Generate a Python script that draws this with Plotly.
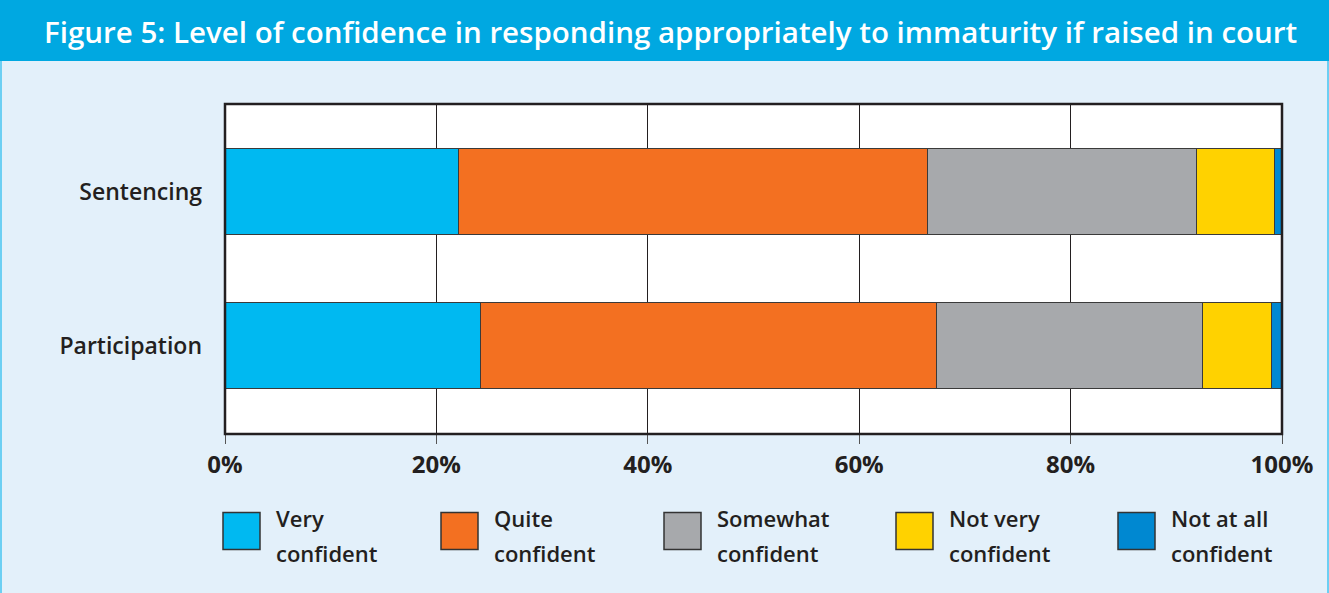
import plotly.graph_objects as go

# ---- data ----
categories = ["Sentencing", "Participation"]
series_names = ["Very confident", "Quite confident", "Somewhat confident",
                "Not very confident", "Not at all confident"]
sentencing = [22.1, 44.4, 25.4, 7.4, 0.7]
participation = [24.2, 43.1, 25.2, 6.5, 1.0]
x_ticks = [0, 20, 40, 60, 80, 100]
x_tick_labels = ["0%", "20%", "40%", "60%", "80%", "100%"]
colors = ["#00B9F1", "#F37021", "#A7A9AC", "#FFD200", "#0088D1"]
title_text = "Figure 5: Level of confidence in responding appropriately to immaturity if raised in court"

W, H = 1329, 593
L, R, T, B = 225, 47, 104, 159
PW, PH = W - L - R, H - T - B
TXT = "#231F20"
FONT = "Open Sans"


def px(x):
    return (x - L) / PW


def py(y):
    return (H - B - y) / PH


fig = go.Figure()
for i, name in enumerate(series_names):
    fig.add_trace(go.Bar(
        y=categories,
        x=[sentencing[i], participation[i]],
        name=name,
        orientation="h",
        width=0.56,
        marker=dict(color=colors[i], line=dict(color="#3A3A3A", width=1)),
        showlegend=False,
    ))

shapes = []
annotations = []
# title bar
shapes.append(dict(type="rect", xref="paper", yref="paper", x0=px(0), x1=px(W),
                   y0=py(61), y1=py(0), fillcolor="#00A8E1", line=dict(width=0),
                   layer="below"))
# figure side borders
shapes.append(dict(type="line", xref="paper", yref="paper", x0=px(1), x1=px(1),
                   y0=py(61), y1=py(H), line=dict(color="#6CCFF3", width=2)))
shapes.append(dict(type="line", xref="paper", yref="paper", x0=px(W - 1), x1=px(W - 1),
                   y0=py(61), y1=py(H), line=dict(color="#6CCFF3", width=2)))
# plot frame
shapes.append(dict(type="rect", xref="paper", yref="paper", x0=0, x1=1, y0=0, y1=1,
                   line=dict(color=TXT, width=2.5), layer="above"))

annotations.append(dict(text=title_text, xref="paper", yref="paper",
                        x=px(670), y=py(31), xanchor="center", yanchor="middle",
                        showarrow=False,
                        font=dict(family=FONT, size=29.5, color="white", weight=600)))

# custom legend
leg_x = [223, 441, 664, 896, 1118]
for i, name in enumerate(series_names):
    x0 = leg_x[i]
    shapes.append(dict(type="rect", xref="paper", yref="paper",
                       x0=px(x0), x1=px(x0 + 37), y0=py(549.5), y1=py(512.5),
                       fillcolor=colors[i], line=dict(color="#333333", width=1.5)))
    first, second = name.rsplit(" ", 1)
    for j, line in enumerate([first, second]):
        annotations.append(dict(text=line, xref="paper", yref="paper",
                                x=px(x0 + 51), y=py(518 + 35 * j),
                                xanchor="left", yanchor="middle", showarrow=False,
                                font=dict(family=FONT, size=22, color=TXT, weight=600)))

fig.update_layout(
    width=W, height=H,
    margin=dict(l=L, r=R, t=T, b=B, pad=0),
    barmode="stack",
    paper_bgcolor="#E3F0FA",
    plot_bgcolor="white",
    shapes=shapes,
    annotations=annotations,
    xaxis=dict(range=[0, 100], tickvals=x_ticks, ticktext=x_tick_labels,
               showgrid=True, gridcolor="#231F20", gridwidth=1,
               ticks="outside", ticklen=9, tickcolor="#555555", tickwidth=1,
               zeroline=False, showline=False,
               tickfont=dict(family=FONT, size=24, color=TXT, weight=700)),
    yaxis=dict(type="category", categoryorder="array",
               categoryarray=list(reversed(categories)),
               range=[-0.577, 1.573], showgrid=False, zeroline=False,
               ticks="", ticklabelstandoff=22,
               tickfont=dict(family=FONT, size=23, color=TXT, weight=600)),
)

fig.write_html("out.html")
